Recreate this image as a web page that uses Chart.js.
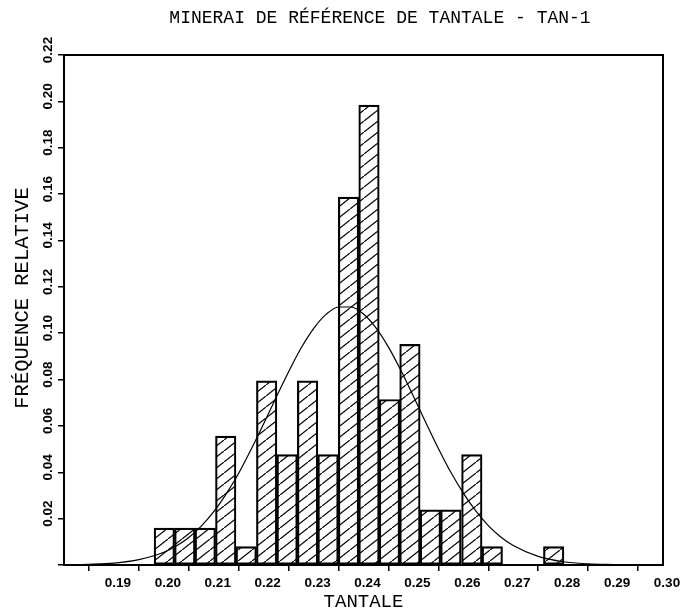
<!DOCTYPE html>
<html><head><meta charset="utf-8">
<script src="https://cdn.jsdelivr.net/npm/chart.js@4.4.1/dist/chart.umd.min.js"></script>
<style>html,body{margin:0;padding:0;background:#fff}</style>
</head><body>
<canvas id="c" width="681" height="611"></canvas>
<script>
// ---- data ----
const binCenters = [0.2001,0.2042,0.2083,0.2124,0.2165,0.2206,0.2247,0.2288,0.2329,0.2370,
                    0.2411,0.2452,0.2493,0.2534,0.2575,0.2617,0.2658,0.2699,0.2740,0.2781];
const relFreq    = [0.0159,0.0159,0.0159,0.0556,0.0079,0.0794,0.0476,0.0794,0.0476,0.1587,
                    0.1984,0.0714,0.0952,0.0238,0.0238,0.0476,0.0079,0,0,0.0079];
const curveX = [0.180,0.185,0.190,0.195,0.200,0.2025,0.205,0.2075,0.210,0.2125,0.215,0.2175,0.220,
                0.2225,0.225,0.2275,0.230,0.2325,0.235,0.2375,0.240,0.2425,0.245,0.2475,0.250,
                0.2525,0.255,0.2575,0.260,0.2625,0.265,0.2675,0.270,0.275,0.280,0.285,0.290,0.295,0.300];
const curveY = [0.0001,0.0003,0.0008,0.0023,0.0055,0.0082,0.0119,0.0168,0.0230,0.0307,0.0396,0.0499,0.0609,
                0.0723,0.0834,0.0936,0.1020,0.1081,0.1113,0.1113,0.1083,0.1023,0.0940,0.0839,0.0728,
                0.0614,0.0503,0.0400,0.0310,0.0233,0.0170,0.0121,0.0084,0.0037,0.0014,0.0005,0.0002,0,0];
const titleText = 'MINERAI DE RÉFÉRENCE DE TANTALE - TAN-1';
const xTitle = 'TANTALE';
const yTitle = 'FRÉQUENCE RELATIVE';
const xMin = 0.18, xMax = 0.30, xStep = 0.01;
const yMin = 0, yMax = 0.22, yStep = 0.02;

// hatch pattern
const pc = document.createElement('canvas');
pc.width = 14; pc.height = 11;
const px = pc.getContext('2d');
px.strokeStyle = '#000'; px.lineWidth = 1.2;
px.beginPath(); px.moveTo(-14, 22); px.lineTo(28, -11); px.stroke();
const hatch = document.getElementById('c').getContext('2d').createPattern(pc, 'repeat');

const MONO = '"Liberation Mono", "DejaVu Sans Mono", monospace';
const SANS = '"Liberation Sans", Arial, sans-serif';

const deco = {
  id: 'deco',
  beforeDraw(chart) {
    const c = chart.ctx;
    c.save(); c.fillStyle = '#fff'; c.fillRect(0, 0, chart.width, chart.height); c.restore();
  },
  afterDraw(chart) {
    const c = chart.ctx, a = chart.chartArea, ys = chart.scales.y;
    c.save();
    c.strokeStyle = '#000'; c.lineWidth = 2;
    c.strokeRect(a.left, a.top, a.right - a.left, a.bottom - a.top);
    c.fillStyle = '#000';
    c.textAlign = 'center'; c.textBaseline = 'middle';
    c.font = '18px ' + MONO;
    c.fillText(titleText, 380, 18);
    c.font = '19px ' + MONO;
    c.fillText(xTitle, (a.left + a.right) / 2, 602);
    c.save();
    c.translate(23, 298); c.rotate(-Math.PI / 2);
    c.font = '20.5px ' + MONO;
    c.fillText(yTitle, 0, 0);
    c.restore();
    c.font = 'bold 13.5px ' + SANS;
    ys.ticks.forEach(t => {
      if (t.value === 0) return;
      const y = ys.getPixelForValue(t.value);
      c.save(); c.translate(48, y - 5); c.rotate(-Math.PI / 2);
      c.fillText(t.value.toFixed(2), 0, 0);
      c.restore();
    });
    c.restore();
  }
};

new Chart(document.getElementById('c'), {
  type: 'bar',
  data: {
    datasets: [
      {
        type: 'line', order: 0,
        data: curveX.map((x, i) => ({x, y: curveY[i]})),
        borderColor: '#000', borderWidth: 1.2, pointRadius: 0, fill: false,
        cubicInterpolationMode: 'monotone'
      },
      {
        type: 'bar', order: 1,
        data: binCenters.map((x, i) => ({x, y: relFreq[i]})),
        backgroundColor: hatch, borderColor: '#000', borderWidth: 1.5,
        borderSkipped: false, barPercentage: 1, categoryPercentage: 1
      }
    ]
  },
  options: {
    responsive: false, animation: false, devicePixelRatio: 1,
    layout: { padding: { top: 55, right: 18, left: 0, bottom: 0 } },
    plugins: { legend: { display: false }, tooltip: { enabled: false }, title: { display: false } },
    scales: {
      x: {
        type: 'linear', min: xMin, max: xMax, offset: false,
        afterFit(s) { s.height = 46; },
        border: { display: true, color: '#000', width: 2 },
        grid: { drawOnChartArea: false, drawTicks: true, tickLength: 6, color: '#000', lineWidth: 1.5 },
        ticks: {
          stepSize: xStep, color: '#000', padding: 4, labelOffset: 4, maxRotation: 0, autoSkip: false,
          font: { family: SANS, size: 13.5, weight: 'bold' },
          callback: v => (Math.abs(v - xMin) < 1e-9 ? '' : v.toFixed(2))
        }
      },
      y: {
        min: yMin, max: yMax,
        afterFit(s) { s.width = 64; },
        border: { display: true, color: '#000', width: 2 },
        grid: { drawOnChartArea: false, drawTicks: true, tickLength: 6, color: '#000', lineWidth: 1.5 },
        ticks: { stepSize: yStep, display: false }
      }
    }
  },
  plugins: [deco]
});
</script>
</body></html>
